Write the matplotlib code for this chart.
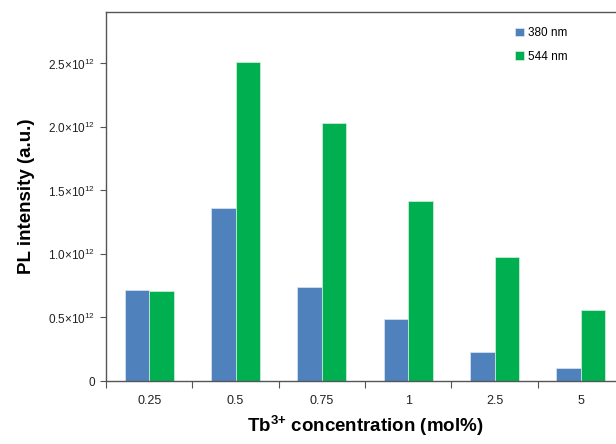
import matplotlib
matplotlib.use("Agg")
import matplotlib.pyplot as plt
import numpy as np
from matplotlib.ticker import FixedLocator

plt.rcParams['font.family'] = ['Liberation Sans', 'DejaVu Sans']
plt.rcParams['mathtext.fontset'] = 'custom'
plt.rcParams['mathtext.rm'] = 'Liberation Sans'
plt.rcParams['mathtext.it'] = 'Liberation Sans:italic'
plt.rcParams['mathtext.bf'] = 'Liberation Sans:bold'

categories = ['0.25', '0.5', '0.75', '1', '2.5', '5']
series_380 = [0.716e12, 1.365e12, 0.740e12, 0.488e12, 0.226e12, 0.105e12]
series_544 = [0.709e12, 2.510e12, 2.029e12, 1.420e12, 0.976e12, 0.557e12]
yticks = [0, 0.5e12, 1.0e12, 1.5e12, 2.0e12, 2.5e12]
ytick_labels = ['0', '0.5×10$^{12}$', '1.0×10$^{12}$', '1.5×10$^{12}$', '2.0×10$^{12}$', '2.5×10$^{12}$']

fig = plt.figure(figsize=(6.16, 4.44), dpi=100)
ax = fig.add_axes([106/616, 1 - 381/444, (624 - 106)/616, (381 - 12)/444])

x = np.arange(len(categories))
w = 0.284
ax.bar(x - w/2, series_380, w, color='#4F81BD', edgecolor='#DCE6F2', linewidth=0.5, label='380 nm')
ax.bar(x + w/2, series_544, w, color='#00B050', edgecolor='#D8F0E0', linewidth=0.5, label='544 nm')

ax.set_xlim(-0.5, len(categories) - 0.5)
ax.set_ylim(0, 2.905e12)

ax.set_xticks(x)
ax.set_xticklabels(categories, fontsize=9)
ax.xaxis.set_minor_locator(FixedLocator(np.arange(-0.5, len(categories), 1.0)))
ax.tick_params(axis='x', which='major', length=0, pad=10, colors='#222222')
ax.tick_params(axis='x', which='minor', length=5, width=0.8, color='#555555')

ax.set_yticks(yticks)
ax.set_yticklabels(ytick_labels, fontsize=8.5)
ax.tick_params(axis='y', which='major', length=4, width=0.8, color='#555555', pad=4, labelcolor='#222222')

for s in ['left', 'bottom', 'top', 'right']:
    ax.spines[s].set_color('#555555')
    ax.spines[s].set_linewidth(1.0)

ax.set_ylabel('PL intensity (a.u.)', fontsize=13.5, fontweight='bold', labelpad=9)
ax.set_xlabel(r'Tb$^{\mathbf{3{+}}}$ concentration (mol%)', fontsize=13.5, fontweight='bold', labelpad=5)

leg = ax.legend(loc='upper left', bbox_to_anchor=(0.77, 0.987), frameon=False, fontsize=8.5,
                handlelength=0.7, handleheight=0.7, handletextpad=0.4, labelspacing=0.95)

fig.savefig('out.png', dpi=100)
